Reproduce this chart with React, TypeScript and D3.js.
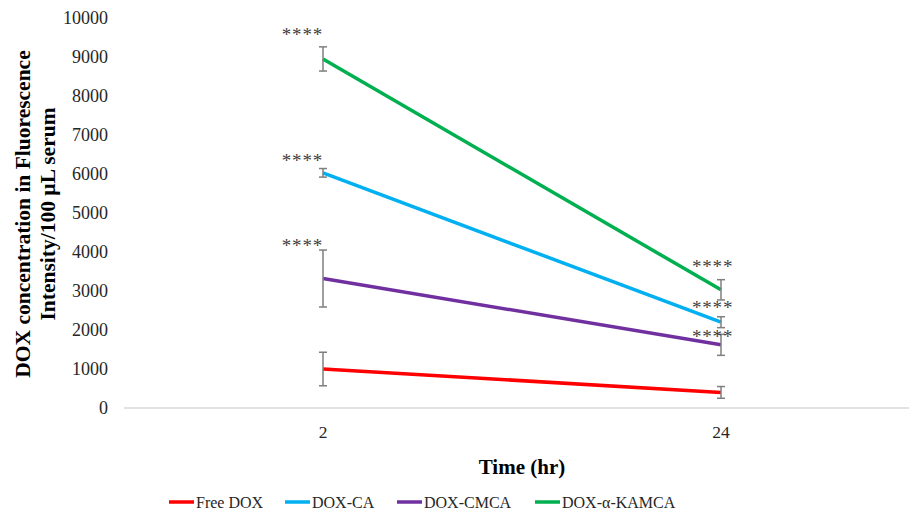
import React, { useEffect } from 'react';
import * as d3 from 'd3';

// time points (hr)
const times = ['2', '24'];

const seriesNames = ['Free DOX', 'DOX-CA', 'DOX-CMCA', 'DOX-α-KAMCA'];
const seriesColors = ['#ff0000', '#00b0f0', '#7030a0', '#00b050'];

// mean fluorescence intensity / 100 µL serum
const freeDox = [1000, 400];
const doxCa = [6030, 2200];
const doxCmca = [3320, 1620];
const doxKamca = [8950, 3030];

// error (± SD)
const freeDoxErr = [430, 150];
const doxCaErr = [110, 140];
const doxCmcaErr = [730, 270];
const doxKamcaErr = [310, 260];

// significance labels and where they sit (in data units)
const sigText = '****';
const doxCaSig = [6440, 2685];
const doxCmcaSig = [4280, 1940];
const doxKamcaSig = [9690, 3735];

const yTicks = [0, 1000, 2000, 3000, 4000, 5000, 6000, 7000, 8000, 9000, 10000];

const W = 909;
const H = 513;

const App = () => {
  useEffect(() => {
    document.body.style.margin = '0';
  }, []);

  const x = d3.scaleBand().domain(times).range([124, 920]).padding(0);
  const y = d3.scaleLinear().domain([0, 10000]).range([408, 18]);
  const cx = (t: string) => (x(t) as number) + x.bandwidth() / 2;

  const values = [freeDox, doxCa, doxCmca, doxKamca];
  const errs = [freeDoxErr, doxCaErr, doxCmcaErr, doxKamcaErr];
  const sigs = [null, doxCaSig, doxCmcaSig, doxKamcaSig];

  const line = d3
    .line<number>()
    .x((_, i) => cx(times[i]))
    .y((d) => y(d));

  const serif = { fontFamily: '"Liberation Serif", "Times New Roman", serif' };

  // legend layout
  const legendX = [169, 285, 397, 535];

  return (
    <svg width={W} height={H} style={{ display: 'block', background: '#fff', ...serif }}>
      {/* y tick labels */}
      {yTicks.map((t) => (
        <text key={t} x={108} y={y(t)} dy="0.35em" textAnchor="end" fontSize={18} fill="#262626" style={serif}>
          {t}
        </text>
      ))}
      {/* x axis */}
      <line x1={124} x2={W} y1={y(0)} y2={y(0)} stroke="#d9d9d9" strokeWidth={1.3} />
      {times.map((t) => (
        <text key={t} x={cx(t)} y={438} textAnchor="middle" fontSize={17.5} fill="#262626" style={serif}>
          {t}
        </text>
      ))}

      {/* axis titles */}
      <text x={522} y={474} textAnchor="middle" fontSize={21} fontWeight="bold" fill="#000" style={serif}>
        Time (hr)
      </text>
      <g transform={`translate(22,${214}) rotate(-90)`}>
        <text x={0} y={0} dy="0.35em" textAnchor="middle" fontSize={21.5} fontWeight="bold" fill="#000" style={serif}>
          DOX concentration in Fluorescence
        </text>
        <text x={0} y={25} dy="0.35em" textAnchor="middle" fontSize={21.5} fontWeight="bold" fill="#000" style={serif}>
          Intensity/100 µL serum
        </text>
      </g>

      {/* series lines */}
      {values.map((v, s) => (
        <path key={s} d={line(v) as string} fill="none" stroke={seriesColors[s]} strokeWidth={3.5} />
      ))}

      {/* error bars */}
      {values.map((v, s) =>
        v.map((d, i) => {
          const px = cx(times[i]);
          const top = y(d + errs[s][i]);
          const bot = y(d - errs[s][i]);
          return (
            <g key={`${s}-${i}`} stroke="#7f7f7f" strokeWidth={1.5}>
              <line x1={px} x2={px} y1={top} y2={bot} />
              <line x1={px - 4} x2={px + 4} y1={top} y2={top} />
              <line x1={px - 4} x2={px + 4} y1={bot} y2={bot} />
            </g>
          );
        })
      )}

      {/* significance labels */}
      {sigs.map((sv, s) =>
        sv
          ? sv.map((d, i) => (
              <text
                key={`sig-${s}-${i}`}
                x={i === 0 ? cx(times[i]) : cx(times[i]) - 29}
                y={y(d)}
                dy="0.55em"
                textAnchor={i === 0 ? 'end' : 'start'}
                fontSize={19}
                letterSpacing={0.8}
                fill="#404040"
                style={serif}
              >
                {sigText}
              </text>
            ))
          : null
      )}

      {/* legend */}
      {seriesNames.map((n, s) => (
        <g key={n} transform={`translate(${legendX[s]},${502})`}>
          <line x1={0} x2={25} y1={0} y2={0} stroke={seriesColors[s]} strokeWidth={3.5} />
          <text x={27} y={0} dy="0.35em" fontSize={16} fill="#262626" style={serif}>
            {n}
          </text>
        </g>
      ))}
    </svg>
  );
};

export default App;
